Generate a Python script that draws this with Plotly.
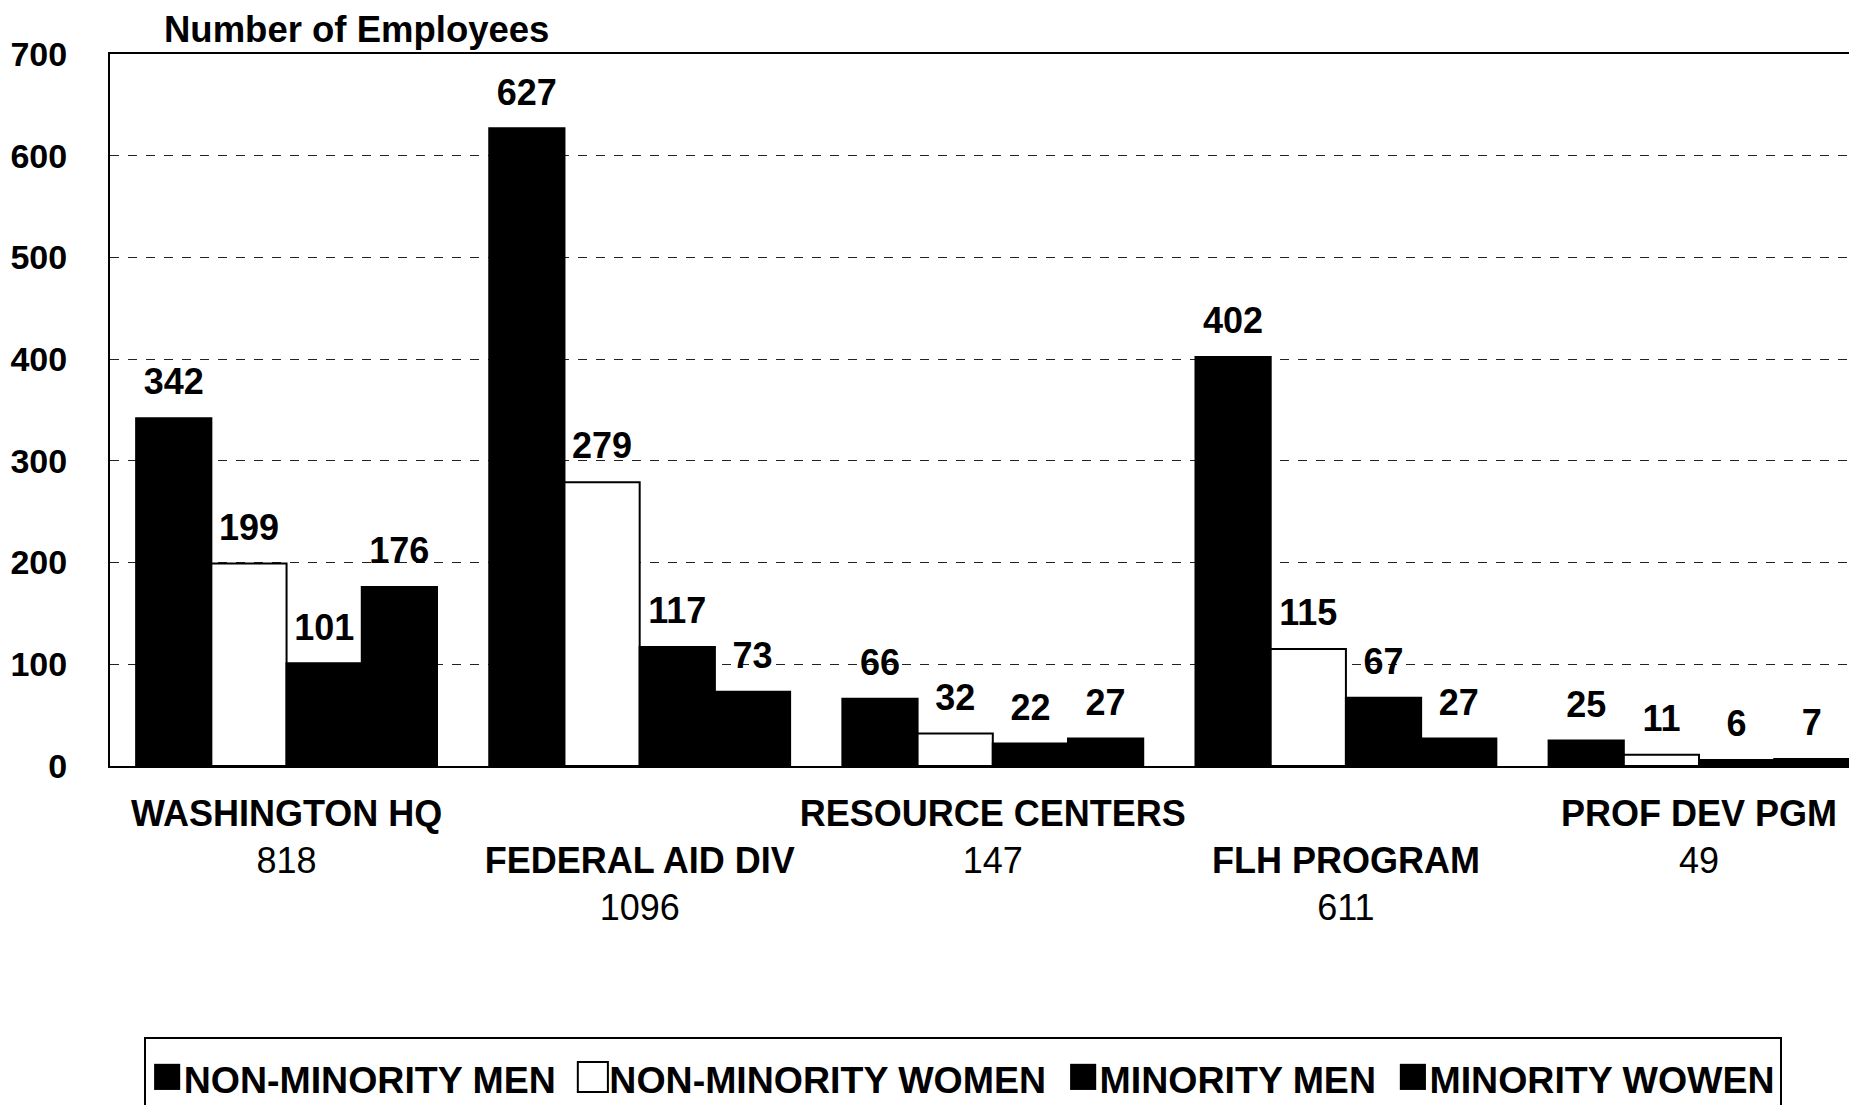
import plotly.graph_objects as go

# categories and counts
categories = ["WASHINGTON HQ", "FEDERAL AID DIV", "RESOURCE CENTERS", "FLH PROGRAM", "PROF DEV PGM"]
nonmin_men = [342, 627, 66, 402, 25]
nonmin_women = [199, 279, 32, 115, 11]
min_men = [101, 117, 22, 67, 6]
min_women = [176, 73, 27, 27, 7]
series_names = ["NON-MINORITY MEN", "NON-MINORITY WOMEN", "MINORITY MEN", "MINORITY WOWEN"]
y_ticks = [0, 100, 200, 300, 400, 500, 600, 700]

totals = [a + b + c + d for a, b, c, d in zip(nonmin_men, nonmin_women, min_men, min_women)]

# staggered category labels: odd ones high, even ones one line lower
tick_text = []
for i, (c, t) in enumerate(zip(categories, totals)):
    if i % 2 == 0:
        tick_text.append("<b>%s</b><br>%d" % (c, t))
    else:
        tick_text.append("<br><b>%s</b><br>%d" % (c, t))

FONT = "Liberation Sans, Arial, sans-serif"
fills = ["black", "white", "black", "black"]
all_series = [nonmin_men, nonmin_women, min_men, min_women]
xs = list(range(len(categories)))

fig = go.Figure()
for k, (name, vals, col) in enumerate(zip(series_names, all_series, fills)):
    fig.add_trace(go.Bar(
        x=xs, y=vals, name=name, offsetgroup=str(k), showlegend=False,
        marker=dict(color=col, line=dict(color="black", width=2)),
    ))
    # value labels sit a bit above the bar tops
    fig.add_trace(go.Scatter(
        x=xs, y=vals, offsetgroup=str(k), mode="markers+text", showlegend=False,
        marker=dict(size=22, color="rgba(0,0,0,0)"),
        text=["<b>%d</b>" % v for v in vals], textposition="top center",
        textfont=dict(family=FONT, size=36, color="black"),
        cliponaxis=False, hoverinfo="skip",
    ))

# legend drawn as one boxed line of text, like the original
swatch = {"black": "\u25A0", "white": "\u25A1"}
legend_text = "  ".join(
    "<span style='font-size:54px'>%s</span><b>%s</b>" % (swatch[c], n)
    for n, c in zip(series_names, fills))

fig.update_layout(
    width=1857, height=1105,
    paper_bgcolor="white", plot_bgcolor="white",
    barmode="group", bargap=0.148, bargroupgap=0,
    scattermode="group", scattergap=0.148,
    margin=dict(l=102, r=0, t=46, b=347, autoexpand=False),
    font=dict(family=FONT, color="black"),
    showlegend=False,
)
fig.update_xaxes(
    range=[-0.5, 4.47], tickmode="array", tickvals=xs,
    ticktext=tick_text, tickfont=dict(family=FONT, size=36, color="black"),
    showline=True, linecolor="black", linewidth=2, mirror=True,
    ticks="", showgrid=False, tickangle=0, automargin=False, ticklabelstandoff=15,
)
fig.update_yaxes(
    range=[0, 700], tickvals=y_ticks,
    tickfont=dict(family=FONT, size=34, color="black", weight="bold"),
    showline=True, linecolor="black", linewidth=2,
    showgrid=True, gridcolor="#222222", gridwidth=1, griddash="dash",
    ticks="", ticklabelstandoff=34, zeroline=False, automargin=False,
)
fig.add_annotation(text="<b>Number of Employees</b>", xref="paper", yref="paper",
                   x=0.0295, y=1.0, xanchor="left", yanchor="bottom",
                   yshift=2, showarrow=False,
                   font=dict(family=FONT, size=36.5, color="black"))
fig.add_annotation(text=legend_text, xref="paper", yref="paper",
                   x=0.486, y=-0.433, xanchor="center", yanchor="middle",
                   showarrow=False, bordercolor="black", borderwidth=2, borderpad=5,
                   font=dict(family=FONT, size=37.5, color="black"))

fig.write_html("out.html")
